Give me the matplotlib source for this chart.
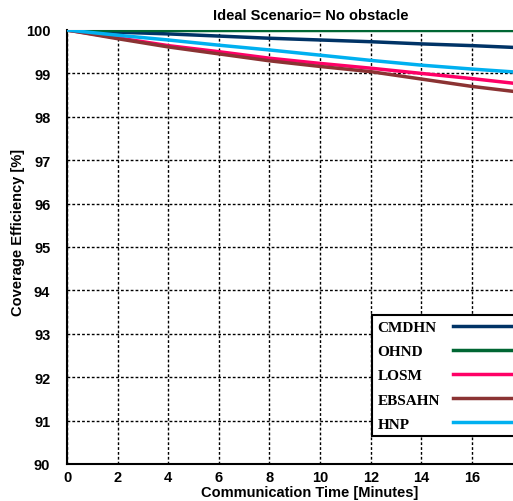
import matplotlib.pyplot as plt

# values
time_min = [0, 2, 4, 6, 8, 10, 12, 14, 16, 18]
cmdhn = [100, 99.95, 99.91, 99.86, 99.81, 99.77, 99.73, 99.68, 99.64, 99.59]
ohnd = [100, 100, 100, 100, 100, 100, 100, 100, 100, 100]
losm = [100, 99.82, 99.64, 99.50, 99.35, 99.23, 99.12, 99.00, 98.88, 98.75]
ebsahn = [100, 99.80, 99.61, 99.45, 99.29, 99.16, 99.04, 98.87, 98.70, 98.56]
hnp = [100, 99.88, 99.77, 99.65, 99.54, 99.42, 99.30, 99.19, 99.10, 99.02]

series = [('CMDHN', cmdhn, '#003366'),
          ('OHND', ohnd, '#006633'),
          ('LOSM', losm, '#ff0066'),
          ('EBSAHN', ebsahn, '#8b3333'),
          ('HNP', hnp, '#00b0f0')]

W, H = 513, 502
fig = plt.figure(figsize=(W / 100, H / 100), dpi=100)
# axes run past the right edge, the reference is cropped there
ax = fig.add_axes([67 / W, 1 - 465 / H, (522.6 - 67) / W, (465 - 31) / H])

for name, vals, col in series:
    ax.plot(time_min, vals, color=col, lw=2.5, label=name, zorder=3)

ax.set_xlim(0, 18)
ax.set_ylim(90, 100)
ax.set_xticks(range(0, 19, 2))
ax.set_yticks(range(90, 101))
ax.grid(True, color='black', linestyle=(0, (2, 1.5)), lw=1)
ax.tick_params(length=0, labelsize=10.5)
ax.tick_params(axis='y', pad=12)
ax.tick_params(axis='x', pad=4)
for lab in ax.get_xticklabels() + ax.get_yticklabels():
    lab.set_fontweight('bold')
    lab.set_family('Liberation Sans')

ax.spines['left'].set_linewidth(1.5)
ax.spines['bottom'].set_linewidth(1.5)
ax.spines['top'].set_color('#999999')
ax.spines['right'].set_visible(False)

fig.text(311 / W, 1 - 16 / H, 'Ideal Scenario= No obstacle', ha='center', va='center',
         fontsize=10.5, fontweight='bold', family='Liberation Sans')
fig.text(310 / W, 1 - 493 / H, 'Communication Time [Minutes]', ha='center', va='center',
         fontsize=10.5, fontweight='bold', family='Liberation Sans')
fig.text(18 / W, 1 - 232 / H, 'Coverage Efficiency [%]', ha='center', va='center',
         rotation=90, fontsize=10.5, fontweight='bold', family='Liberation Sans')

leg = ax.legend(loc='lower left', bbox_to_anchor=(372 / W, 1 - 437 / H),
                bbox_transform=fig.transFigure, borderaxespad=0, markerfirst=False,
                fancybox=False, edgecolor='black', framealpha=1, handlelength=4.5,
                labelspacing=0.68, borderpad=0.35, handletextpad=1.5,
                prop={'family': 'Liberation Serif', 'weight': 'bold', 'size': 11})
leg.get_frame().set_linewidth(1.5)
leg.set_zorder(5)
# left-align the labels, keep the line samples lined up on the right
for col in leg._legend_handle_box.get_children():
    for row in col.get_children():
        row.mode = 'expand'
        row.width = 144

fig.savefig('out.png', dpi=100)
